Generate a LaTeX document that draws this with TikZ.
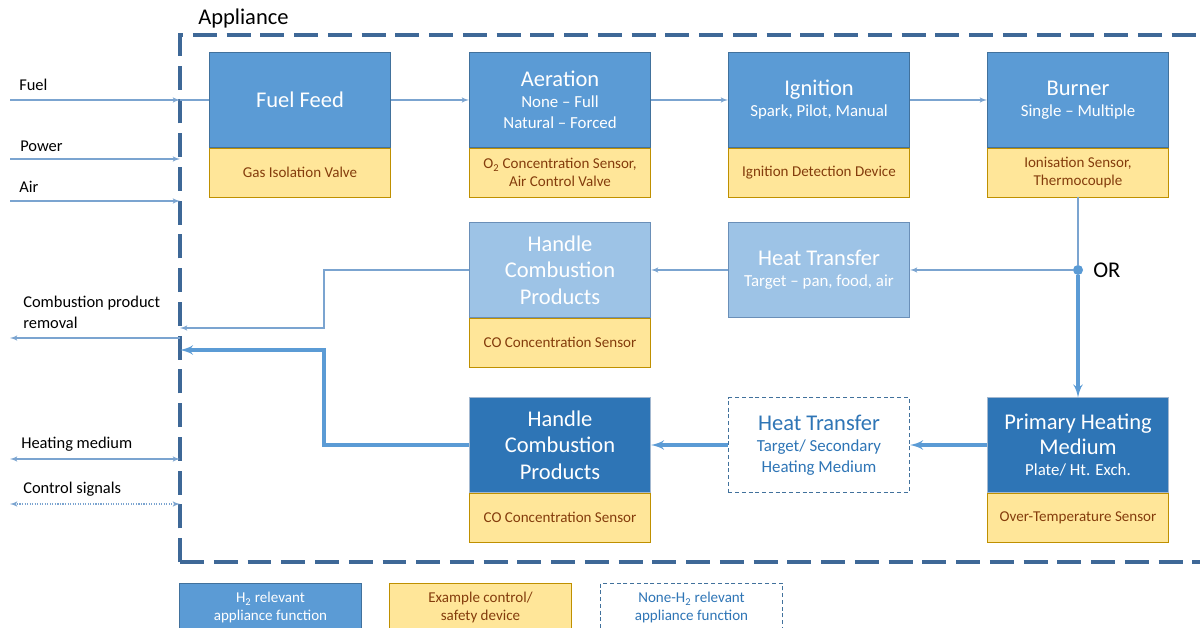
\documentclass[tikz,border=0pt]{standalone}
\usepackage{fontspec}
\setmainfont{Carlito}
\usetikzlibrary{arrows}

\definecolor{fnblue}{HTML}{5B9BD5}
\definecolor{fnedge}{HTML}{41719C}
\definecolor{fnlight}{HTML}{9DC3E6}
\definecolor{lightedge}{HTML}{6A8FB8}
\definecolor{fndark}{HTML}{2E75B6}
\definecolor{darkedge}{HTML}{A3B8D0}
\definecolor{ctrlfill}{HTML}{FFE699}
\definecolor{ctrledge}{HTML}{BF9000}
\definecolor{ctrltext}{HTML}{843C0C}
\definecolor{flowthin}{HTML}{7BA4D0}
\definecolor{flowthick}{HTML}{5B9BD5}
\definecolor{frameline}{HTML}{3E6897}

\newcommand\fnfont{\fontsize{16}{19}\selectfont}
\newcommand\fnsub{\fontsize{12}{15}\selectfont}
\newcommand\ctrlfont{\fontsize{10.7}{12.5}\selectfont}
\newcommand\lblfont{\fontsize{11.7}{15}\selectfont}

\begin{document}
\begin{tikzpicture}[x=0.025cm,y=-0.025cm,>=latex',
  func/.style={draw=fnedge,fill=fnblue,text=white,line width=0.7pt,
    minimum width=4.525cm,minimum height=2.35cm,inner sep=0pt,
    align=center,font=\fnsub},
  lightfunc/.style={func,fill=fnlight,draw=lightedge},
  darkfunc/.style={func,fill=fndark,draw=darkedge},
  nonh2/.style={func,fill=white,draw=fnedge,text=fndark,
    dash pattern=on 2.8pt off 2pt},
  ctrl/.style={draw=ctrledge,fill=ctrlfill,text=ctrltext,line width=0.7pt,
    minimum width=4.525cm,minimum height=1.225cm,inner sep=0pt,
    align=center,font=\ctrlfont,anchor=north},
  lbl/.style={anchor=west,align=left,font=\lblfont,inner sep=0pt},
  frame/.style={draw=frameline,line width=2.5pt,dash pattern=on 17pt off 7pt},
  thinflow/.style={draw=flowthin,line width=0.8pt},
  thickflow/.style={draw=flowthick,line width=2.2pt},
  ordot/.style={circle,fill=flowthick,inner sep=0pt,minimum size=0.25cm}]

  \useasboundingbox (0,0) rectangle (1200,628);
  \clip (0,0) rectangle (1200,628);

  % appliance boundary
  \draw[frame] (180,562) -- (180,35) -- (1260,35);
  \draw[frame] (180,562) -- (1260,562);
  \node[anchor=west,font=\fnfont,inner sep=0pt] (apptitle) at (198,19) {Appliance};

  % top row
  \node[func] (ff)  at (300,100)  {\fnfont Fuel Feed};
  \node[func] (aer) at (560,100)  {{\fnfont Aeration}\\None – Full\\Natural – Forced};
  \node[func] (ign) at (819,100)  {{\fnfont Ignition}\\Spark, Pilot, Manual};
  \node[func] (bur) at (1078,100) {{\fnfont Burner}\\Single – Multiple};

  \node[ctrl] (ffc)  at (ff.south)  {Gas Isolation Valve};
  \node[ctrl] (aerc) at (aer.south) {O\textsubscript{2} Concentration Sensor,\\Air Control Valve};
  \node[ctrl] (ignc) at (ign.south) {Ignition Detection Device};
  \node[ctrl] (burc) at (bur.south) {Ionisation Sensor,\\Thermocouple};

  % middle row
  \node[lightfunc,font=\fnfont] (hcl) at (560,270) {Handle\\Combustion\\Products};
  \node[lightfunc] (htl) at (819,270) {{\fnfont Heat Transfer}\\Target – pan, food, air};
  \node[ctrl] (hclc) at (hcl.south) {CO Concentration Sensor};

  % bottom row
  \node[darkfunc,font=\fnfont] (hcd) at (560,445) {Handle\\Combustion\\Products};
  \node[nonh2] (htd) at (819,445) {{\fnfont Heat Transfer}\\Target/ Secondary\\Heating Medium};
  \node[darkfunc] (phm) at (1078,445) {{\fnfont Primary Heating}\\[3pt]{\fnfont Medium}\\Plate/ Ht. Exch.};
  \node[ctrl] (hcdc) at (hcd.south) {CO Concentration Sensor};
  \node[ctrl] (phmc) at (phm.south) {Over-Temperature Sensor};

  % branch point
  \node[ordot] (or) at (1078,270) {};
  \node[anchor=west,font=\fnfont,inner sep=0pt] (ortxt) at (1093,270) {OR};

  \foreach \from/\to in {ff/aer,aer/ign,ign/bur,or/htl,htl/hcl}
    \draw[thinflow,->] (\from) -- (\to);
  \draw[thinflow] (burc) -- (or);
  \foreach \from/\to in {or/phm,phm/htd,htd/hcd}
    \draw[thickflow,->] (\from) -- (\to);

  % boundary crossings
  \foreach \name/\yy in {fuel/100,power/159,air/201,cpr/338,heat/459,ctl/504} {
    \coordinate (\name-out) at (10,\yy);
    \coordinate (\name-in) at (180,\yy);
  }
  \coordinate (fluel) at (180,328);
  \coordinate (flued) at (180,350);

  \foreach \name in {fuel,power,air}
    \draw[thinflow,->] (\name-out) -- (\name-in);
  \draw[thinflow] (fuel-in) -- (ff);
  \draw[thinflow,->] (cpr-in) -- (cpr-out);
  \draw[thinflow,<->] (heat-out) -- (heat-in);
  \draw[thinflow,<->,densely dotted] (ctl-out) -- (ctl-in);
  \draw[thinflow,->] (hcl.west) -- ++(-145,0) |- (fluel);
  \draw[thickflow,->] (hcd.west) -- ++(-145,0) |- (flued);

  \node[lbl] (fuellbl)  at (19,85)  {Fuel};
  \node[lbl] (powerlbl) at (20,146) {Power};
  \node[lbl] (airlbl)   at (19,187) {Air};
  \node[lbl] (cprlbl)   at (23,312) {Combustion product\\removal};
  \node[lbl] (heatlbl)  at (21,444) {Heating medium};
  \node[lbl] (ctllbl)   at (23,489) {Control signals};

  % key
  \node[func,minimum height=1.225cm,font=\ctrlfont] (keyfn) at (270.5,607.5)
    {H\textsubscript{2} relevant\\appliance function};
  \node[ctrl,anchor=center] (keyctrl) at (480.5,607.5) {Example control/\\safety device};
  \node[nonh2,minimum height=1.225cm,font=\ctrlfont] (keynon) at (691.5,607.5)
    {None-H\textsubscript{2} relevant\\appliance function};
\end{tikzpicture}
\end{document}
